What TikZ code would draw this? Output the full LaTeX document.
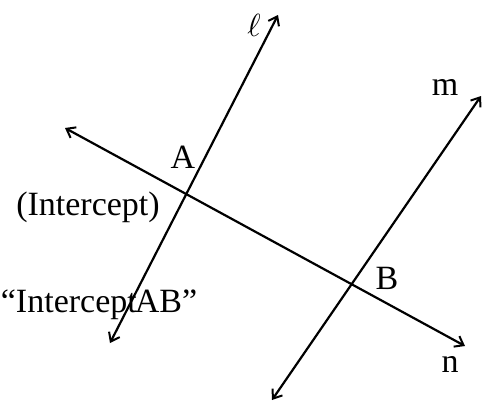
\documentclass[tikz,border=0pt]{standalone}
\usepackage{fontspec}
\setmainfont{Liberation Serif}
\usetikzlibrary{arrows.meta}
\begin{document}
\begin{tikzpicture}[x=1pt,y=-1pt,
  ln/.style={line width=2.2pt,{Straight Barb[length=8pt,width=12pt,line width=2pt]}-{Straight Barb[length=8pt,width=12pt,line width=2pt]}},
  lbl/.style={inner sep=0pt,font=\fontsize{34}{38}\selectfont}]
\useasboundingbox (0,0) rectangle (483,402);
\coordinate (l1) at (110,343);
\coordinate (l2) at (278,15);
\coordinate (m1) at (272,400);
\coordinate (m2) at (481,96);
\coordinate (n1) at (65,128);
\coordinate (n2) at (465,346);
\draw[ln] (l1) -- (l2);
\draw[ln] (m1) -- (m2);
\draw[ln] (n1) -- (n2);
\node[inner sep=0pt] (ell) at (254,25) {\scalebox{3.2}{$\ell$}};
\node[lbl] (m) at (445,87) {m};
\node[lbl] (A) at (183,157) {A};
\node[lbl] (int) at (88,207) {(Intercept)};
\node[lbl] (B) at (387,278) {B};
\node[lbl] (iab) at (99,305) {“Intercept\kern-2pt AB”};
\node[lbl] (n) at (450,364) {n};
\end{tikzpicture}
\end{document}
